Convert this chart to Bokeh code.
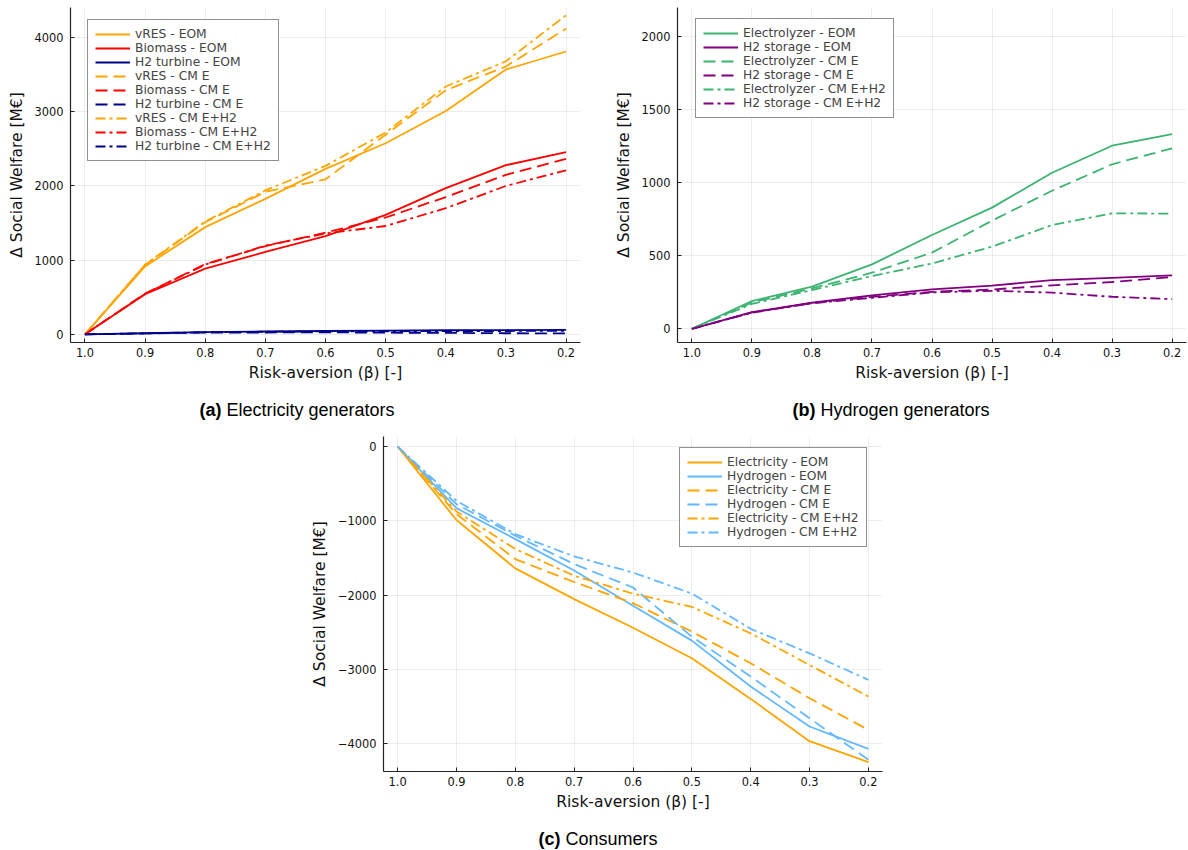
from bokeh.plotting import figure
from bokeh.models import Range1d, FixedTicker, NumeralTickFormatter, Legend, LegendItem, Div, Spacer
from bokeh.layouts import column, row
from bokeh.embed import file_html
from bokeh.resources import INLINE

# Risk-aversion levels (beta) on the x axis
beta = [1.0, 0.9, 0.8, 0.7, 0.6, 0.5, 0.4, 0.3, 0.2]
x_ticks = [1.0, 0.9, 0.8, 0.7, 0.6, 0.5, 0.4, 0.3, 0.2]

# (a) Electricity generators, change in social welfare [M€]
vres_eom = [0, 915, 1445, 1825, 2230, 2575, 3010, 3570, 3812]
biomass_eom = [0, 540, 885, 1110, 1325, 1610, 1970, 2280, 2455]
h2turb_eom = [0, 15, 30, 38, 45, 50, 55, 58, 60]
vres_cme = [0, 935, 1510, 1920, 2090, 2690, 3290, 3610, 4120]
biomass_cme = [0, 550, 945, 1190, 1370, 1575, 1850, 2150, 2365]
h2turb_cme = [0, 12, 25, 25, 28, 22, 20, 15, 12]
vres_cmeh2 = [0, 940, 1520, 1940, 2270, 2720, 3340, 3680, 4300]
biomass_cmeh2 = [0, 545, 940, 1195, 1360, 1460, 1700, 2000, 2210]
h2turb_cmeh2 = [0, 14, 28, 35, 40, 40, 45, 45, 48]
yticks_a = [0, 1000, 2000, 3000, 4000]

# (b) Hydrogen generators
elec_eom = [0, 190, 288, 441, 642, 829, 1068, 1253, 1333]
h2stor_eom = [0, 114, 178, 228, 269, 295, 333, 349, 365]
elec_cme = [0, 180, 276, 384, 521, 740, 945, 1126, 1235]
h2stor_cme = [0, 112, 176, 219, 253, 269, 297, 320, 354]
elec_cmeh2 = [0, 170, 265, 361, 447, 562, 710, 790, 788]
h2stor_cmeh2 = [0, 110, 175, 212, 249, 260, 247, 219, 203]
yticks_b = [0, 500, 1000, 1500, 2000]

# (c) Consumers
el_cons_eom = [0, -990, -1641, -2055, -2440, -2852, -3399, -3969, -4251]
hy_cons_eom = [0, -830, -1247, -1670, -2145, -2614, -3233, -3771, -4072]
el_cons_cme = [0, -910, -1516, -1825, -2110, -2493, -2919, -3390, -3816]
hy_cons_cme = [0, -776, -1202, -1583, -1899, -2561, -3099, -3659, -4220]
el_cons_cmeh2 = [0, -874, -1381, -1740, -1982, -2160, -2516, -2942, -3368]
hy_cons_cmeh2 = [0, -731, -1180, -1480, -1697, -1980, -2455, -2785, -3143]
yticks_c = [0, -1000, -2000, -3000, -4000]

ORANGE = "#FFA500"
RED = "#FF0000"
NAVY = "#00008B"
GREEN = "#3CB371"
PURPLE = "#800080"
SKY = "#63B8FF"

DASHES = {"solid": "solid", "dash": "12 6", "dashdot": "10 4 3 4"}

FONT = "DejaVu Sans"
X_LABEL = "Risk-aversion (β) [-]"
Y_LABEL = "Δ Social Welfare [M€]"

ROW_H = 14.3
LEG_PAD = 7


def make_panel(width, height, left, right, top, bottom, yr, yticks, minus=False):
    p = figure(width=width, height=height,
               min_border_left=left, min_border_right=right,
               min_border_top=top, min_border_bottom=bottom,
               x_range=Range1d(1.024, 0.176), y_range=Range1d(*yr),
               output_backend="svg", toolbar_location=None)
    p.outline_line_color = None
    p.background_fill_color = "white"
    p.border_fill_color = "white"

    p.xaxis.ticker = FixedTicker(ticks=x_ticks)
    p.xaxis.formatter = NumeralTickFormatter(format="0.0")
    p.yaxis.ticker = FixedTicker(ticks=yticks)
    if minus:
        p.yaxis.major_label_overrides = {v: (str(v).replace("-", "\u2212")) for v in yticks}

    for ax in (p.xaxis, p.yaxis):
        ax.axis_line_color = "#222222"
        ax.axis_line_width = 1.2
        ax.major_tick_in = 4
        ax.major_tick_out = 0
        ax.major_tick_line_color = "#222222"
        ax.minor_tick_line_color = None
        ax.major_label_text_font = FONT
        ax.major_label_text_font_size = "11.4px"
        ax.major_label_text_color = "#111111"
        ax.axis_label_text_font = FONT
        ax.axis_label_text_font_size = "15.5px"
        ax.axis_label_text_font_style = "normal"
        ax.axis_label_text_color = "#111111"
    p.xaxis.major_label_standoff = 5
    p.yaxis.major_label_standoff = 7
    p.xaxis.axis_label_standoff = 4
    p.yaxis.axis_label_standoff = 6
    p.xaxis.axis_label = X_LABEL
    p.yaxis.axis_label = Y_LABEL

    for g in (p.xgrid, p.ygrid):
        g.grid_line_color = "#000000"
        g.grid_line_alpha = 0.07
        g.grid_line_width = 1
    return p


def add_series(p, series, left_off, top_off, frame_h):
    items = []
    for label, ys, color, style in series:
        r = p.line(beta, ys, line_color=color, line_width=1.8,
                   line_dash=DASHES[style])
        items.append(LegendItem(label=label, renderers=[r]))
    leg_h = len(items) * ROW_H + 2 * LEG_PAD
    leg = Legend(items=items, location=(left_off, round(frame_h - top_off - leg_h)))
    leg.label_text_font = FONT
    leg.label_text_font_size = "12.3px"
    leg.label_height = 14
    leg.glyph_height = 14
    leg.glyph_width = 35
    leg.label_standoff = 5
    leg.spacing = 0
    leg.padding = LEG_PAD
    leg.margin = 0
    leg.border_line_color = "#222222"
    leg.border_line_width = 1
    leg.background_fill_alpha = 1
    p.add_layout(leg)


# panel (a): frame 510 x 336
pa = make_panel(594, 392, 70, 14, 7, 49, (-110, 4405), yticks_a)
add_series(pa, [
    ("vRES - EOM", vres_eom, ORANGE, "solid"),
    ("Biomass - EOM", biomass_eom, RED, "solid"),
    ("H2 turbine - EOM", h2turb_eom, NAVY, "solid"),
    ("vRES - CM E", vres_cme, ORANGE, "dash"),
    ("Biomass - CM E", biomass_cme, RED, "dash"),
    ("H2 turbine - CM E", h2turb_cme, NAVY, "dash"),
    ("vRES - CM E+H2", vres_cmeh2, ORANGE, "dashdot"),
    ("Biomass - CM E+H2", biomass_cmeh2, RED, "dashdot"),
    ("H2 turbine - CM E+H2", h2turb_cmeh2, NAVY, "dashdot"),
], 17, 12, 336)

# panel (b): frame 509 x 335
pb = make_panel(594, 392, 83, 2, 7, 50, (-94, 2199), yticks_b)
add_series(pb, [
    ("Electrolyzer - EOM", elec_eom, GREEN, "solid"),
    ("H2 storage - EOM", h2stor_eom, PURPLE, "solid"),
    ("Electrolyzer - CM E", elec_cme, GREEN, "dash"),
    ("H2 storage - CM E", h2stor_cme, PURPLE, "dash"),
    ("Electrolyzer - CM E+H2", elec_cmeh2, GREEN, "dashdot"),
    ("H2 storage - CM E+H2", h2stor_cmeh2, PURPLE, "dashdot"),
], 18, 11, 335)

# panel (c): frame 499 x 335
pc = make_panel(596, 392, 83, 14, 8, 49, (-4377, 135), yticks_c, minus=True)
add_series(pc, [
    ("Electricity - EOM", el_cons_eom, ORANGE, "solid"),
    ("Hydrogen - EOM", hy_cons_eom, SKY, "solid"),
    ("Electricity - CM E", el_cons_cme, ORANGE, "dash"),
    ("Hydrogen - CM E", hy_cons_cme, SKY, "dash"),
    ("Electricity - CM E+H2", el_cons_cmeh2, ORANGE, "dashdot"),
    ("Hydrogen - CM E+H2", hy_cons_cmeh2, SKY, "dashdot"),
], 296, 11, 335)


def caption(tag, text, width, height, pad_top, pad_left=0):
    html = (f'<div style="width:{width - pad_left}px;padding-left:{pad_left}px;'
            f'padding-top:{pad_top}px;text-align:center;'
            f"font-family:'Liberation Sans',Arial,sans-serif;font-size:18px;"
            f'line-height:20px;color:#000;white-space:nowrap">'
            f'<b>{tag}</b> {text}</div>')
    return Div(text=html, width=width, height=height, margin=0)


cap_a = caption("(a)", "Electricity generators", 594, 36, 8)
cap_b = caption("(b)", "Hydrogen generators", 594, 36, 8, 28)
cap_c = caption("(c)", "Consumers", 596, 30, 9, 6)

layout = column(
    row(pa, pb),
    row(cap_a, cap_b),
    row(Spacer(width=300, height=392), pc),
    row(Spacer(width=300, height=30), cap_c),
)

open("out.html", "w").write(file_html(layout, INLINE))
